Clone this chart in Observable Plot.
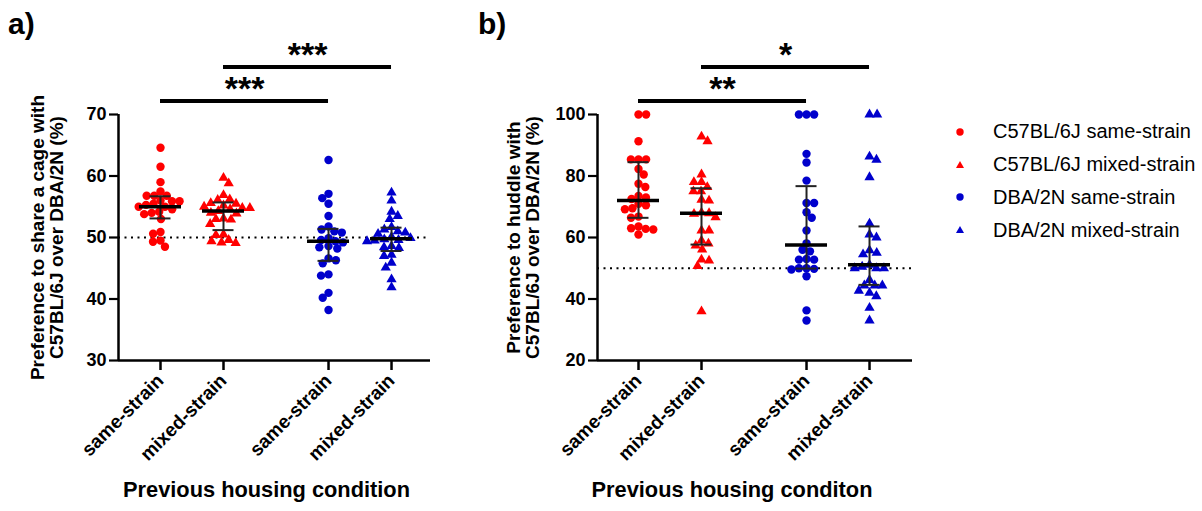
<!DOCTYPE html>
<html><head><meta charset="utf-8">
<script src="https://cdn.jsdelivr.net/npm/d3@7"></script>
<script src="https://cdn.jsdelivr.net/npm/@observablehq/plot@0.6"></script>
<style>
body{margin:0;background:#fff;}
#wrap{position:relative;width:1202px;height:511px;overflow:hidden;font-family:"Liberation Sans",Arial,sans-serif;}
#pa{position:absolute;left:0;top:0}
#pb{position:absolute;left:480px;top:0}
.tag{position:absolute;font-size:30px;font-weight:bold;line-height:30px;top:9px}
#legend{position:absolute;left:950px;top:115.6px;font-size:20px;color:#000}
.row{height:32.7px;display:flex;align-items:center}
.row span{margin-left:23px;white-space:nowrap}
</style></head><body>
<div id="wrap"><div id="pa"></div><div id="pb"></div>
<div class="tag" style="left:8px">a)</div><div class="tag" style="left:478px">b)</div>
<div id="legend"></div></div>
<script>
// ---------- data ----------
const groups = ["C57BL/6J same-strain", "C57BL/6J mixed-strain", "DBA/2N same-strain", "DBA/2N mixed-strain"];
const tickLabels = ["same-strain", "mixed-strain", "same-strain", "mixed-strain"];
const groupColors = ["#ff0000", "#ff0000", "#0000cc", "#0000cc"];
const groupSymbols = ["circle", "triangle", "circle", "triangle"];

// a) preference to share a cage (%)
const cageC57Same  = [64.6, 61.5, 59.0, 57.5, 56.8, 56.8, 56.8, 56.0, 55.9, 55.9, 55.5, 55.3, 55.0, 55.0, 54.6, 54.2, 54.0, 53.8, 53.0, 50.9, 50.6, 49.5, 49.3, 48.5];
const cageC57Mixed = [59.7, 58.8, 56.9, 56.2, 56.1, 55.6, 55.5, 55.2, 55.0, 54.8, 54.8, 54.6, 54.3, 54.0, 53.9, 53.1, 53.0, 52.9, 52.2, 50.5, 50.4, 49.6, 49.4, 49.2, 49.1];
const cageDBASame  = [62.6, 57.1, 56.4, 55.5, 53.5, 51.8, 51.3, 51.0, 50.8, 49.9, 49.6, 49.4, 49.2, 48.6, 48.4, 48.2, 46.6, 46.3, 45.8, 44.0, 43.8, 41.0, 40.2, 38.2];
const cageDBAMixed = [57.3, 56.0, 54.2, 53.5, 53.0, 51.7, 51.3, 51.0, 50.8, 50.6, 50.1, 49.9, 49.7, 49.6, 49.5, 49.4, 48.6, 48.4, 48.3, 47.2, 47.0, 45.9, 45.1, 43.2, 41.9];
const cageMedian = [55.0, 54.3, 49.4, 49.8];
const cageQ1     = [53.1, 51.2, 46.2, 47.8];
const cageQ3     = [56.7, 55.7, 51.4, 51.6];
const cageTicks  = [30, 40, 50, 60, 70];
const cageSigLabels = ["***", "***"];

// b) preference to huddle (%)
const huddleC57Same  = [100, 100, 91.3, 85.4, 85.4, 85.4, 82.3, 80.5, 77.5, 76.4, 73.5, 73.0, 72.5, 71.0, 70.5, 69.5, 69.2, 66.8, 66.4, 63.6, 63.0, 62.8, 62.6, 61.0];
const huddleC57Mixed = [92.8, 91.3, 80.5, 78.0, 78.0, 76.4, 75.0, 75.0, 72.3, 72.0, 68.1, 67.9, 67.7, 66.6, 62.3, 62.3, 59.0, 58.0, 57.4, 56.1, 52.8, 52.5, 50.7, 36.0];
const huddleDBASame  = [100, 100, 100, 87.2, 84.4, 78.5, 71.2, 71.2, 68.2, 66.4, 62.3, 58.1, 56.0, 55.5, 53.0, 52.8, 52.8, 50.0, 50.0, 49.8, 49.6, 47.4, 36.3, 33.0];
const huddleDBAMixed = [100, 100, 86.3, 85.3, 79.6, 64.5, 61.0, 60.0, 55.8, 55.0, 54.5, 51.1, 50.5, 50.0, 50.0, 50.0, 46.2, 44.4, 44.4, 44.4, 42.7, 42.0, 40.9, 37.1, 33.0];
const huddleMedian = [72.0, 67.9, 57.6, 51.1];
const huddleQ1     = [66.4, 57.7, 49.9, 44.6];
const huddleQ3     = [84.5, 76.0, 76.7, 63.6];
const huddleTicks  = [20, 40, 60, 80, 100];
const huddleSigLabels = ["**", "*"];

// comparisons (group index pairs)
const sigFrom = [0, 1];
const sigTo   = [2, 3];
const chanceLevel = 50;

// ---------- layout ----------
const slot = [1, 2, 3.667, 4.667];   // category positions along x (gap between strains)
const H = 511, MT = 114, MB = 151;

function swarmOffsets(vals, pxPerUnit, diam) {
  const idx = vals.map((_, i) => i).sort((a, b) => vals[b] - vals[a]);
  const placed = [], out = new Array(vals.length);
  let flip = 1;
  for (const i of idx) {
    const y = vals[i] * pxPerUnit;
    const near = placed.filter(p => Math.abs(p.y - y) < diam);
    const cands = [0];
    for (const p of near) { const d = Math.sqrt(diam * diam - (p.y - y) ** 2); cands.push(p.x + d, p.x - d); }
    cands.sort((a, b) => (Math.abs(a) - Math.abs(b)) || (a - b) * flip);
    let x = 0;
    for (const c of cands) {
      if (near.every(p => (p.x - c) ** 2 + (p.y - y) ** 2 >= diam * diam - 1e-6)) { x = c; break; }
    }
    flip = -flip;
    placed.push({x, y}); out[i] = x;
  }
  return out;
}

function panel(o) {
  const fw = o.width - o.ml - o.mr;
  const xDomain = [o.x0, o.x0 + fw / 63];
  const pxX = 63;
  const pxY = (H - MT - MB) / (o.yDomain[1] - o.yDomain[0]);
  const marks = [];
  // chance line
  marks.push(Plot.ruleY([chanceLevel], {stroke: "black", strokeWidth: 2.2, strokeDasharray: "2,4.5"}));
  // points
  o.series.forEach((vals, g) => {
    const offs = swarmOffsets(vals, pxY, 7.6);
    const pts = vals.map((v, i) => ({x: slot[g] + offs[i] / pxX, y: v}));
    marks.push(Plot.dot(pts, {x: "x", y: "y", fill: groupColors[g], stroke: "none",
      symbol: groupSymbols[g], r: groupSymbols[g] === "circle" ? 4.2 : 3.8}));
  });
  // median + IQR
  const summ = slot.map((p, g) => ({p, med: o.med[g], q1: o.q1[g], q3: o.q3[g]}));
  const capW = 10.5 / pxX, medW = 21 / pxX;
  marks.push(Plot.ruleX(summ, {x: "p", y1: "q1", y2: "q3", stroke: "#222", strokeWidth: 2}));
  marks.push(Plot.ruleY(summ, {y: "q1", x1: d => d.p - capW, x2: d => d.p + capW, stroke: "#222", strokeWidth: 2}));
  marks.push(Plot.ruleY(summ, {y: "q3", x1: d => d.p - capW, x2: d => d.p + capW, stroke: "#222", strokeWidth: 2}));
  marks.push(Plot.ruleY(summ, {y: "med", x1: d => d.p - medW, x2: d => d.p + medW, stroke: "black", strokeWidth: 3.5}));
  // axes
  marks.push(Plot.ruleX([xDomain[0]], {stroke: "black", strokeWidth: 2.5}));
  marks.push(Plot.ruleY([o.yDomain[0]], {stroke: "black", strokeWidth: 2.5}));
  marks.push(Plot.axisY({ticks: o.yTicks, tickSize: 9, tickPadding: 3, strokeWidth: 2.2, fontSize: 18, label: null}));
  marks.push(Plot.axisX({ticks: slot, tickFormat: d => tickLabels[slot.indexOf(d)], tickRotate: -45,
    tickSize: 10, tickPadding: 7, strokeWidth: 2.5, fontSize: 19, label: null}));
  // axis titles
  marks.push(Plot.text([o.yLabel], {frameAnchor: "left", textAnchor: "middle", lineAnchor: "middle",
    rotate: -90, dx: o.yLabelDx, fontSize: 19, lineHeight: 1.0}));
  marks.push(Plot.text([o.xLabel], {frameAnchor: "bottom", textAnchor: "middle", dx: o.xLabelDx, dy: 136, fontSize: 21.8}));
  // significance
  const top = o.yDomain[1];
  const sig = sigFrom.map((f, i) => ({
    x1: slot[f], x2: slot[sigTo[i]], lab: o.sigLabels[i],
    y: top + (13.5 + 34 * i) / pxY
  }));
  marks.push(Plot.ruleY(sig, {y: "y", x1: "x1", x2: "x2", stroke: "black", strokeWidth: 4}));
  marks.push(Plot.text(sig, {x: d => (d.x1 + d.x2) / 2, y: "y", text: "lab", fontSize: 34, dy: -1, lineAnchor: "bottom"}));
  return Plot.plot({
    width: o.width, height: H, marginLeft: o.ml, marginRight: o.mr, marginTop: MT, marginBottom: MB,
    x: {domain: xDomain}, y: {domain: o.yDomain},
    style: {fontFamily: "'Liberation Sans', Arial, sans-serif", fontWeight: "bold", fontSize: "18px",
      color: "black", background: "transparent", overflow: "visible"},
    marks
  });
}

document.getElementById("pa").append(panel({
  width: 480, ml: 118, mr: 50, x0: 1 - 42 / 63,
  series: [cageC57Same, cageC57Mixed, cageDBASame, cageDBAMixed],
  med: cageMedian, q1: cageQ1, q3: cageQ3,
  yDomain: [30, 70], yTicks: cageTicks,
  yLabel: "Preference to share a cage with\nC57BL/6J over DBA/2N (%)", yLabelDx: -71,
  xLabel: "Previous housing condition", xLabelDx: -8,
  sigLabels: cageSigLabels
}));
document.getElementById("pb").append(panel({
  width: 450, ml: 117, mr: 18, x0: 1 - 41 / 63,
  series: [huddleC57Same, huddleC57Mixed, huddleDBASame, huddleDBAMixed],
  med: huddleMedian, q1: huddleQ1, q3: huddleQ3,
  yDomain: [20, 100], yTicks: huddleTicks,
  yLabel: "Preference to huddle with\nC57BL/6J over DBA/2N (%)", yLabelDx: -74,
  xLabel: "Previous housing conditon", xLabelDx: -23,
  sigLabels: huddleSigLabels
}));

// legend
const leg = document.getElementById("legend");
groups.forEach((g, i) => {
  const row = document.createElement("div");
  row.className = "row";
  const shape = groupSymbols[i] === "circle"
    ? `<circle cx="10" cy="10" r="3.7" fill="${groupColors[i]}"/>`
    : `<path d="M10,6 L14,13 L6,13 Z" fill="${groupColors[i]}"/>`;
  row.innerHTML = `<svg width="20" height="20">${shape}</svg><span>${g}</span>`;
  leg.append(row);
});
</script>
</body></html>
